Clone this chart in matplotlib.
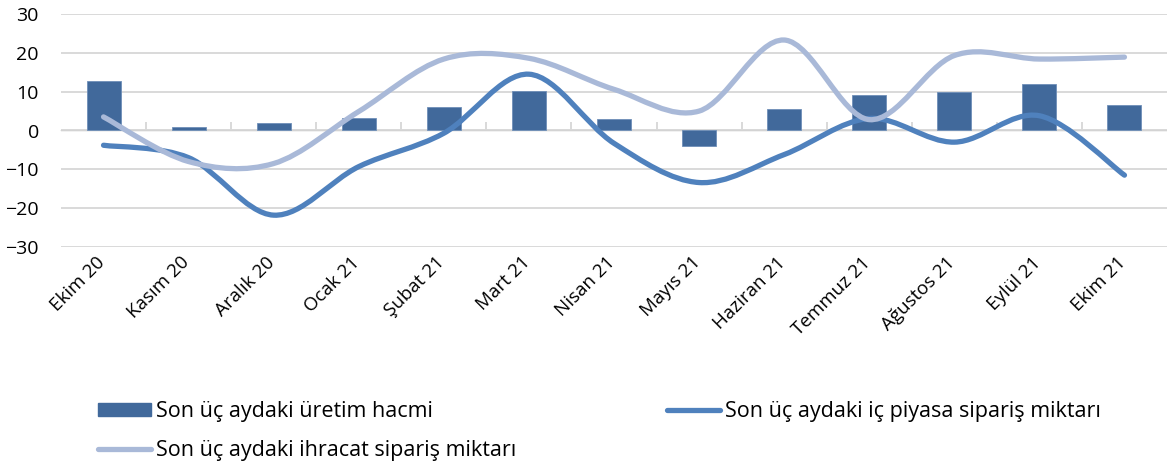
import matplotlib
matplotlib.use("Agg")
import matplotlib.pyplot as plt
import matplotlib.transforms as mtransforms
import numpy as np
from matplotlib.path import Path
from matplotlib.patches import PathPatch
from matplotlib.lines import Line2D

plt.rcParams['font.family'] = ['Open Sans', 'DejaVu Sans']

# veriler
months = ["Ekim 20", "Kasım 20", "Aralık 20", "Ocak 21", "Şubat 21", "Mart 21", "Nisan 21",
          "Mayıs 21", "Haziran 21", "Temmuz 21", "Ağustos 21", "Eylül 21", "Ekim 21"]
production = [12.7, 1.0, 2.0, 3.3, 6.0, 10.3, 2.9, -4.0, 5.5, 9.2, 10.0, 12.0, 6.6]
domestic_orders = [-3.8, -7.0, -21.8, -9.3, -0.7, 14.5, -3.3, -13.4, -6.2, 3.1, -3.0, 3.8, -11.5]
export_orders = [3.5, -8.0, -8.5, 4.9, 18.4, 18.6, 10.6, 5.0, 23.3, 2.8, 19.3, 18.4, 18.9]

label_prod = "Son üç aydaki üretim hacmi"
label_dom = "Son üç aydaki iç piyasa sipariş miktarı"
label_exp = "Son üç aydaki ihracat sipariş miktarı"

c_bar = "#41699b"
c_dom = "#4f81bd"
c_exp = "#a9b9d8"
c_grid = "#d9d9d9"


def smooth_path(x, y):
    # Excel tarzı yumuşatılmış çizgi (Bezier)
    pts = np.column_stack([x, y]).astype(float)
    ext = np.vstack([pts[0], pts, pts[-1]])
    verts = [pts[0]]
    codes = [Path.MOVETO]
    for i in range(len(pts) - 1):
        p0, p1, p2, p3 = ext[i], ext[i + 1], ext[i + 2], ext[i + 3]
        verts += [p1 + (p2 - p0) / 6, p2 - (p3 - p1) / 6, p2]
        codes += [Path.CURVE4] * 3
    return Path(verts, codes)


fig = plt.figure(figsize=(11.67, 4.69), dpi=100)
ax = fig.add_axes([61 / 1167, 1 - 247 / 469, 1 - 61 / 1167, 233 / 469])

x = np.arange(len(months))
ax.bar(x, production, width=0.4, color=c_bar, edgecolor="#6f8fb8", linewidth=0.6, zorder=3)

for vals, col in [(domestic_orders, c_dom), (export_orders, c_exp)]:
    ax.add_patch(PathPatch(smooth_path(x, vals), fill=False, edgecolor=col, lw=3.8,
                           capstyle="round", joinstyle="round", zorder=4))

ax.set_xlim(-0.5, len(months) - 0.5)
ax.set_ylim(-30, 30)
ax.set_yticks(range(-30, 31, 10))
ax.yaxis.grid(True, color=c_grid, lw=1.4)
ax.set_axisbelow(True)
for s in ax.spines.values():
    s.set_visible(False)
ax.tick_params(axis="y", length=0, pad=16, labelsize=14)
ax.set_xticks(x)
ax.set_xticklabels(months, rotation=45, ha="right", rotation_mode="anchor", fontsize=13.5)
ax.tick_params(axis="x", length=0, pad=6)
shift = mtransforms.ScaledTranslation(-8 / 100, 2 / 100, fig.dpi_scale_trans)
for lab in ax.get_xticklabels():
    lab.set_transform(lab.get_transform() + shift)

# sıfır çizgisindeki kategori ekseni
zax = ax.secondary_xaxis(0.5)
zax.set_xticks(np.arange(0.5, len(months) - 1, 1))
zax.set_xticklabels([])
zax.spines["bottom"].set_color(c_grid)
zax.spines["bottom"].set_linewidth(1.4)
zax.tick_params(axis="x", length=6, width=1.4, color=c_grid, direction="out")

handles = [
    plt.Rectangle((0, 0), 1, 1, color=c_bar),
    Line2D([], [], color=c_exp, lw=3.8, solid_capstyle="round"),
    Line2D([], [], color=c_dom, lw=3.8, solid_capstyle="round"),
]
fig.legend(handles, [label_prod, label_exp, label_dom], ncol=2, frameon=False,
           loc="upper left", bbox_to_anchor=(98 / 1167, 1 - 401 / 469), fontsize=15.5,
           borderpad=0, borderaxespad=0, handlelength=2.45, handleheight=0.6,
           handletextpad=0.25, columnspacing=7.0, labelspacing=0.85)

fig.savefig("out.png", dpi=100)
